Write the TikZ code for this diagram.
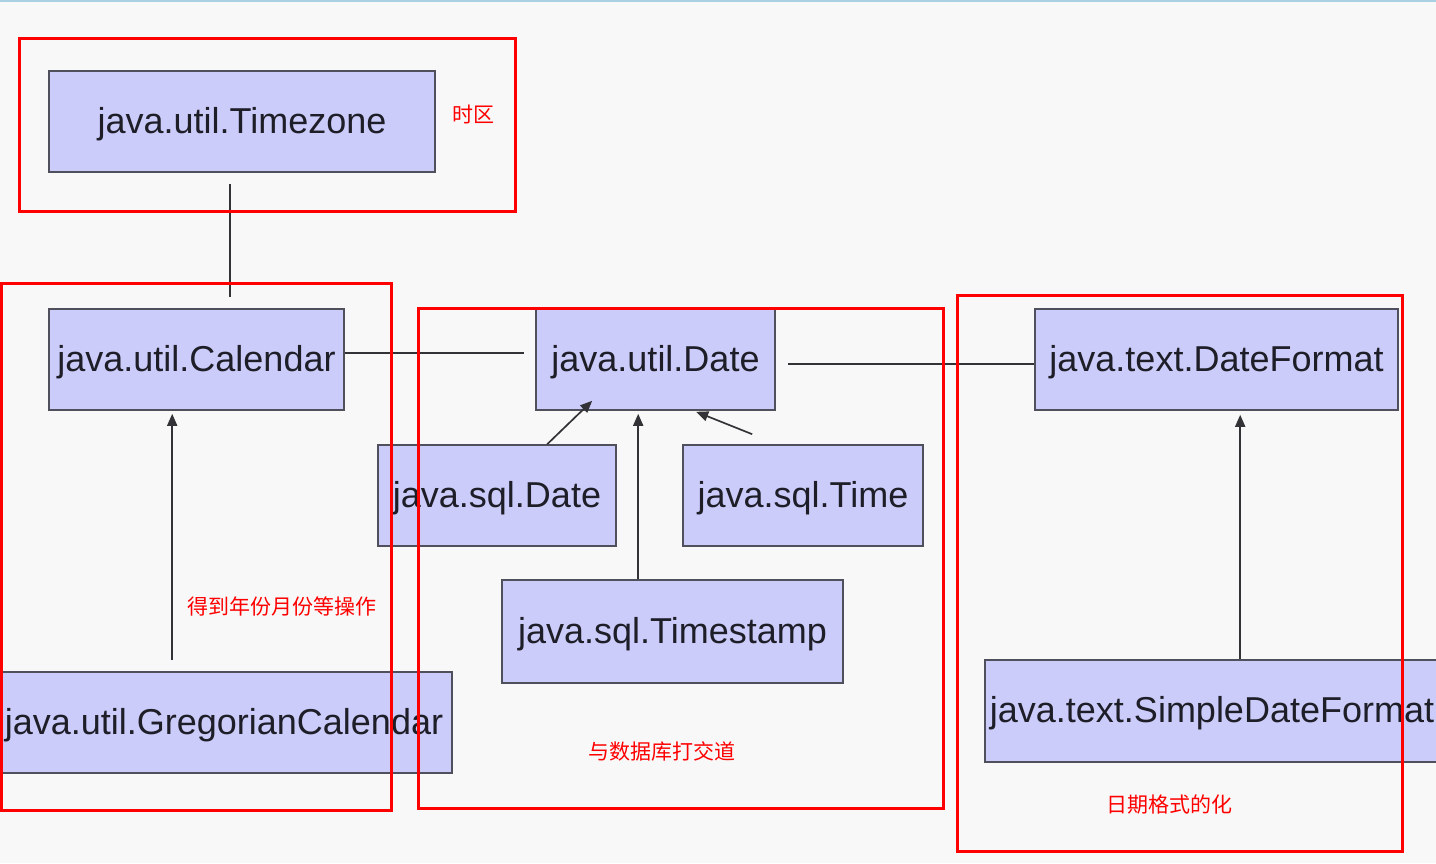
\documentclass[tikz,border=0pt]{standalone}
\usepackage{fontspec}
\setmainfont{Liberation Sans}
\newfontfamily\cjk{Noto Sans CJK SC}
\usetikzlibrary{arrows.meta,calc}
\definecolor{bg}{RGB}{248,248,248}
\definecolor{boxfill}{RGB}{204,204,250}
\definecolor{boxline}{RGB}{80,80,92}
\definecolor{txt}{RGB}{30,30,40}
\definecolor{conn}{RGB}{50,50,55}
\definecolor{topline}{RGB}{170,208,228}
\definecolor{frame}{RGB}{255,0,0}
\tikzset{
  cls/.style={draw=boxline, fill=boxfill, line width=1.6pt, inner sep=0pt,
    text=txt, font=\fontsize{36}{40}\selectfont, text height=30pt, text depth=7pt},
  link/.style={draw=conn, line width=1.7pt},
  arr/.style={link, -{Triangle[length=12pt,width=10pt]}},
  grp/.style={draw=frame, line width=3pt},
  note/.style={text=frame, font=\cjk\fontsize{21}{24}\selectfont, inner sep=0pt}
}
\begin{document}
\begin{tikzpicture}[x=1pt,y=-1pt]
\useasboundingbox (0,0) rectangle (1436,863);
\clip (0,0) rectangle (1436,863);
\fill[bg] (0,0) rectangle (1436,863);
\draw[topline, line width=1.5pt] (0,0.75) -- (1436,0.75);

% class boxes
\node[cls, minimum width=386, minimum height=101] (tz) at (242,121.5) {java.util.Timezone};
\node[cls, minimum width=295, minimum height=101] (cal) at (196.5,359.5) {java.util.Calendar};
\node[cls, minimum width=239, minimum height=101] (date) at (655.5,359.5) {java.util.Date};
\node[cls, minimum width=363, minimum height=101] (df) at (1216.5,359.5) {java.text.DateFormat};
\node[cls, minimum width=238, minimum height=101] (sqld) at (497,495.5) {java.sql.Date};
\node[cls, minimum width=240, minimum height=101] (sqlt) at (803,495.5) {java.sql.Time};
\node[cls, minimum width=341, minimum height=103] (ts) at (672.5,631.5) {java.sql.Timestamp};
\node[cls, minimum width=456, minimum height=101] (greg) at (224,722.5) {java.util.GregorianCalendar};
\node[cls, minimum width=454, minimum height=102] (sdf) at (1212,711) {java.text.SimpleDateFormat};

% connectors
\draw[link] ([xshift=182pt,yshift=-11pt]tz.south west) -- ([xshift=182pt,yshift=11pt]cal.north west);
\draw[link] ([yshift=-45pt]cal.north east) -- ([xshift=-11pt,yshift=-45pt]date.north west);
\draw[link] ([xshift=12pt,yshift=-56pt]date.north east) -- ([yshift=-56pt]df.north west);
\draw[arr] ([xshift=170pt]sqld.north west) -- ([xshift=57pt,yshift=10pt]date.south west);
\draw[arr] ([xshift=137pt]ts.north west) -- ([xshift=103pt,yshift=-3pt]date.south west);
\draw[arr] ([xshift=70pt,yshift=10pt]sqlt.north west) -- ([xshift=161pt,yshift=-1pt]date.south west);
\draw[arr] ([xshift=177pt,yshift=11pt]greg.north west) -- ([xshift=124pt,yshift=-3pt]cal.south west);
\draw[arr] ([xshift=256pt]sdf.north west) -- ([xshift=206pt,yshift=-4pt]df.south west);

% red group frames
\draw[grp] (19,38) rectangle (515,211);
\draw[grp] (1,283) rectangle (391,810);
\draw[grp] (418,308) rectangle (943,808);
\draw[grp] (957,295) rectangle (1402,851);

% notes
\node[note] (n1) at (473,114) {时区};
\node[note] (n2) at (282,606) {得到年份月份等操作};
\node[note] (n3) at (662,751) {与数据库打交道};
\node[note] (n4) at (1169,805) {日期格式的化};
\end{tikzpicture}
\end{document}
